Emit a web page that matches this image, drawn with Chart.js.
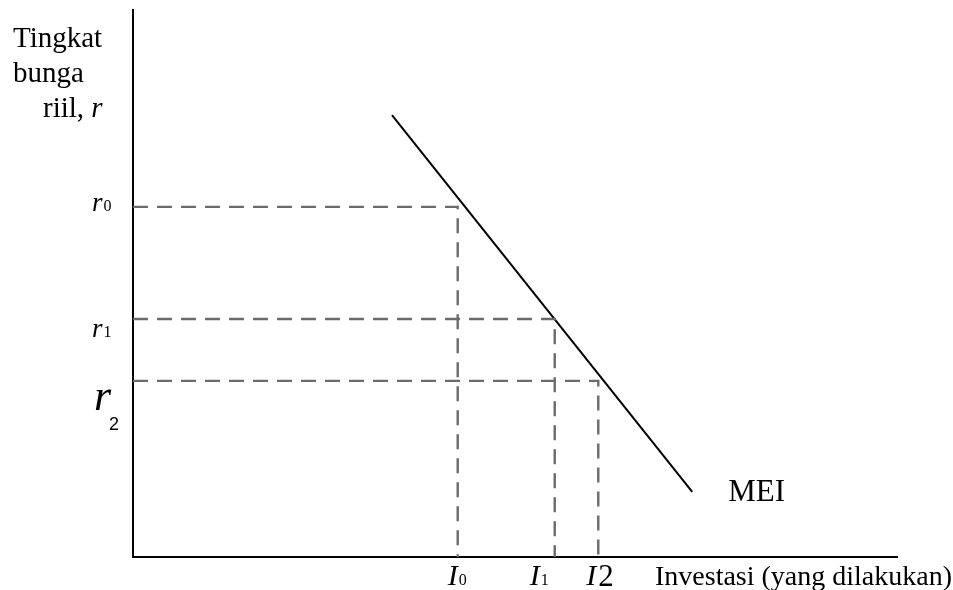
<!DOCTYPE html>
<html>
<head>
<meta charset="utf-8">
<script src="https://cdn.jsdelivr.net/npm/chart.js@4.4.1/dist/chart.umd.min.js"></script>
<style>
  html, body { margin: 0; padding: 0; background: #fff; }
  #wrap { width: 953px; height: 590px; }
</style>
</head>
<body>
<div id="wrap"><canvas id="chart" width="953" height="590"></canvas></div>
<script>
// --- data (investment units on x, real interest rate on y) ---
const rateLevels = [64.0, 43.5, 32.2];          // r0, r1, r2
const investLevels = [42.5, 55.2, 60.9];        // I0, I1, I2
const rateNames = ['r0', 'r1', 'r2'];
const investNames = ['I0', 'I1', 'I2'];
const meiX = [33.9, 73.2];
const meiY = [80.8, 11.9];

const dashColor = '#6b6b6b';

// dashed guides: from the y axis to the curve, then down to the x axis
const guideSets = rateLevels.map((r, i) => ({
    label: 'guide ' + i,
    data: [{ x: 0, y: r }, { x: investLevels[i], y: r }, { x: investLevels[i], y: 0 }],
    showLine: true,
    borderColor: dashColor,
    borderWidth: 2.4,
    borderDash: [15, 9],
    pointRadius: 0,
    fill: false
}));

const meiSet = {
    label: 'MEI',
    data: meiX.map((x, i) => ({ x: x, y: meiY[i] })),
    showLine: true,
    borderColor: '#000',
    borderWidth: 2,
    pointRadius: 0,
    fill: false
};

// text labels drawn next to the axes
const labelPlugin = {
    id: 'econLabels',
    afterDraw(chart) {
        const ctx = chart.ctx;
        const xs = chart.scales.x;
        const ys = chart.scales.y;
        const area = chart.chartArea;
        ctx.save();
        ctx.fillStyle = '#000';
        ctx.textBaseline = 'alphabetic';
        ctx.textAlign = 'left';

        // y axis title
        ctx.font = '29px "Liberation Serif"';
        ctx.fillText('Tingkat', 13, 47);
        ctx.fillText('bunga', 13, 82);
        ctx.fillText('riil, ', 43, 117);
        const w = ctx.measureText('riil, ').width;
        ctx.font = 'italic 29px "Liberation Serif"';
        ctx.fillText('r', 43 + w, 117);

        // r0, r1 (small subscripts)
        [0, 1].forEach(i => {
            const y = ys.getPixelForValue(rateLevels[i]) + 4 + (i === 1 ? 14 : 0);
            ctx.font = 'italic 27px "Liberation Serif"';
            ctx.fillText('r', 92, y);
            const rw = ctx.measureText('r').width;
            ctx.font = '16px "Liberation Serif"';
            ctx.fillText(rateNames[i].slice(1), 92 + rw + 1, y);
        });
        // r2 in a larger style
        const y2 = ys.getPixelForValue(rateLevels[2]);
        ctx.font = 'italic 44px "Liberation Serif"';
        ctx.fillText('r', 94, y2 + 29);
        ctx.font = '18px "Liberation Sans"';
        ctx.fillText(rateNames[2].slice(1), 109, y2 + 49);

        // I0, I1 (small subscripts), I2 larger
        const by = area.bottom + 28;
        const offs = [-10, -25];
        [0, 1].forEach(i => {
            const x = xs.getPixelForValue(investLevels[i]) + offs[i];
            ctx.font = 'italic 30px "Liberation Serif"';
            ctx.fillText('I', x, by);
            const iw = ctx.measureText('I').width;
            ctx.font = '16px "Liberation Serif"';
            ctx.fillText(investNames[i].slice(1), x + iw + 1, by);
        });
        const x2 = xs.getPixelForValue(investLevels[2]) - 12;
        ctx.font = 'italic 30px "Liberation Serif"';
        ctx.fillText('I', x2, by);
        const iw2 = ctx.measureText('I').width;
        ctx.font = '31px "Liberation Serif"';
        ctx.fillText(investNames[2].slice(1), x2 + iw2 + 2, by + 1);

        // x axis title
        ctx.font = '28px "Liberation Serif"';
        ctx.fillText('Investasi (yang dilakukan)', 655, by);

        // curve label
        const end = meiSet.data[meiSet.data.length - 1];
        ctx.font = '31px "Liberation Serif"';
        ctx.fillText('MEI', xs.getPixelForValue(end.x) + 36, ys.getPixelForValue(end.y) + 9);

        ctx.restore();
    }
};

new Chart(document.getElementById('chart').getContext('2d'), {
    type: 'scatter',
    data: { datasets: guideSets.concat([meiSet]) },
    options: {
        responsive: false,
        animation: false,
        layout: { padding: { left: 125, right: 56, top: 10, bottom: 25 } },
        plugins: { legend: { display: false }, tooltip: { enabled: false } },
        scales: {
            x: {
                type: 'linear', min: 0, max: 100,
                grid: { display: false },
                border: { display: true, color: '#000', width: 2 },
                ticks: { display: false }
            },
            y: {
                type: 'linear', min: 0, max: 100,
                grid: { display: false },
                border: { display: true, color: '#000', width: 2 },
                ticks: { display: false }
            }
        }
    },
    plugins: [labelPlugin]
});
</script>
</body>
</html>
